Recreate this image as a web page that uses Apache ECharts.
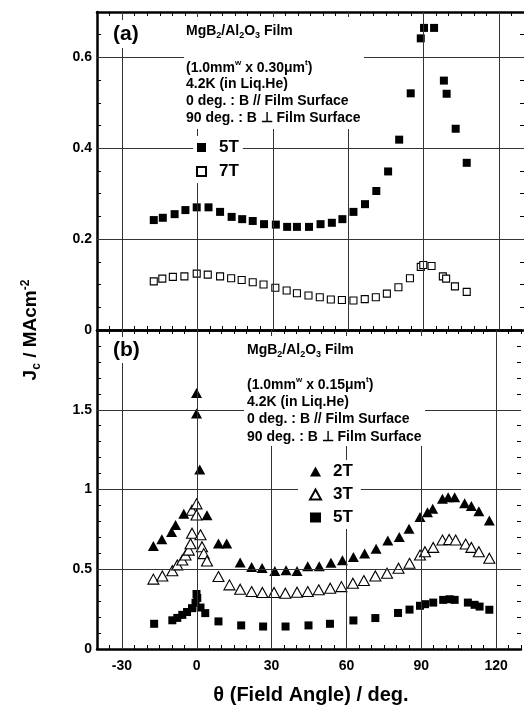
<!DOCTYPE html>
<html>
<head>
<meta charset="utf-8">
<script src="https://cdn.jsdelivr.net/npm/echarts/dist/echarts.min.js"></script>
<style>html,body{margin:0;padding:0;background:#fff}#c{width:524px;height:706px}</style>
</head>
<body>
<div id="c"></div>
<script>
// ---------- DATA ----------
const xTicksMajor = [-30, 0, 30, 60, 90, 120];
const yTicksA = [0.2, 0.4, 0.6];
const yTicksB = [0.5, 1, 1.5];

// Panel (a) 0.30um film
const angA5T = [-17.4,-13.8,-9.1,-4.8,-0.3,4.4,9.0,13.6,17.8,22.0,26.5,31.2,35.7,39.6,44.4,49.0,53.5,57.7,62.1,66.7,71.2,75.9,80.3,84.9,88.9,90.2,94.2,98.1,99.2,102.8,107.2];
const jcA5T  = [0.242,0.247,0.255,0.264,0.270,0.270,0.260,0.249,0.244,0.240,0.233,0.232,0.227,0.227,0.227,0.233,0.236,0.244,0.260,0.277,0.306,0.349,0.419,0.521,0.642,0.665,0.665,0.549,0.520,0.443,0.368];
const angA7T = [-17.4,-14.0,-9.8,-5.2,-0.3,4.1,9.0,13.4,17.6,22.0,26.3,31.0,35.5,39.6,44.2,48.7,53.1,57.5,62.1,66.6,71.0,75.4,80.0,84.6,88.9,89.9,93.2,97.7,99.0,102.5,107.2];
const jcA7T  = [0.107,0.113,0.117,0.118,0.124,0.122,0.118,0.114,0.110,0.105,0.100,0.093,0.087,0.081,0.076,0.072,0.067,0.066,0.065,0.068,0.072,0.080,0.094,0.114,0.139,0.143,0.141,0.118,0.113,0.096,0.084];

// Panel (b) 0.15um film
const angB2T = [-17.4,-14.0,-10.1,-8.5,-5.2,-0.1,-0.1,1.2,4.1,8.7,12.0,17.4,22.0,26.2,31.3,35.8,40.2,44.5,49.1,53.8,58.4,62.8,67.3,71.9,76.6,81.2,85.1,89.5,92.5,94.6,98.5,100.8,103.4,107.4,110.1,113.1,117.3];
const jcB2T  = [0.646,0.688,0.733,0.777,0.848,1.605,1.476,1.126,0.839,0.661,0.661,0.542,0.514,0.508,0.489,0.494,0.489,0.519,0.519,0.540,0.556,0.577,0.598,0.629,0.681,0.702,0.754,0.827,0.858,0.879,0.942,0.952,0.952,0.914,0.896,0.864,0.806];
const angB3T = [-17.4,-13.8,-9.8,-7.8,-5.8,-4.5,-3.2,-2.5,-1.9,-1.9,-0.1,-0.1,1.5,2.1,2.8,4.1,8.7,13.1,17.4,22.0,26.3,31.0,35.5,40.2,44.5,48.9,53.5,58.0,62.6,67.0,71.6,76.3,80.9,85.3,89.5,91.5,94.8,98.5,101.2,103.8,107.8,110.1,113.1,117.3];
const jcB3T  = [0.438,0.458,0.491,0.527,0.558,0.589,0.620,0.660,0.726,0.870,0.910,0.840,0.716,0.641,0.598,0.552,0.454,0.402,0.375,0.360,0.354,0.354,0.350,0.356,0.360,0.371,0.381,0.391,0.412,0.429,0.458,0.475,0.506,0.537,0.589,0.610,0.637,0.683,0.687,0.683,0.658,0.637,0.610,0.569];
const angB5T = [-17.1,-9.8,-7.8,-5.8,-3.9,-1.9,-0.5,-0.1,0.2,1.5,3.4,8.7,17.8,26.6,35.6,44.8,53.4,62.8,71.6,80.7,85.3,89.5,91.5,94.8,98.8,101.4,103.4,108.7,111.4,113.4,117.3];
const jcB5T  = [0.158,0.180,0.195,0.214,0.232,0.256,0.290,0.345,0.320,0.260,0.225,0.173,0.148,0.141,0.141,0.148,0.158,0.179,0.194,0.226,0.247,0.271,0.281,0.291,0.308,0.312,0.308,0.291,0.277,0.266,0.246];

const seriesLabels = {a5T:'5T', a7T:'7T', b2T:'2T', b3T:'3T', b5T:'5T'};

// ---------- CHART ----------
const FONT = '"Liberation Sans", Arial, Helvetica, sans-serif';
const zip = (xs, ys) => xs.map((x, i) => [x, ys[i]]);
const near = (v, step) => Math.abs(v / step - Math.round(v / step)) < 1e-6;

function xAx(grid, pos, labels) {
  return {
    type: 'value', gridIndex: grid, position: pos, min: -40, max: 130, interval: 5,
    axisLine: {show: true, onZero: false, lineStyle: {color: '#000', width: 2.5}},
    axisTick: {show: true, inside: true, length: 4, lineStyle: {color: '#000', width: 1}},
    axisLabel: {show: labels, margin: 10, color: '#000', fontFamily: FONT, fontWeight: 'bold', fontSize: 14,
      formatter: v => (near(v, 30) && v > -40 && v < 130) ? String(v) : ''},
    splitLine: {show: false}
  };
}
function yAx(grid, pos, max, step, major, labels) {
  return {
    type: 'value', gridIndex: grid, position: pos, min: 0, max: max, interval: step,
    axisLine: {show: pos === 'left', onZero: false, lineStyle: {color: '#000', width: 2.5}},
    axisTick: {show: true, inside: true, length: 4, lineStyle: {color: '#000', width: 1}},
    axisLabel: {show: labels, margin: 5, color: '#000', fontFamily: FONT, fontWeight: 'bold', fontSize: 14,
      formatter: v => { const r = Math.round(v * 1000) / 1000; return (near(r, major) && r < max - 1e-6) ? String(r) : ''; }},
    splitLine: {show: false}
  };
}
function gridLines(yVals) {
  return {
    silent: true, symbol: ['none', 'none'], animation: false, label: {show: false},
    lineStyle: {color: '#333', width: 1, type: 'solid', opacity: 1},
    emphasis: {disabled: true},
    data: xTicksMajor.map(v => ({xAxis: v})).concat(yVals.map(v => ({yAxis: v})))
  };
}
const filled = {color: '#000', opacity: 1};
const open = {color: '#fff', borderColor: '#000', borderWidth: 1.1, opacity: 1};

const sub = {fontSize: 9, fontWeight: 'bold', fontFamily: FONT, fill: '#000', lineHeight: 2, verticalAlign: 'bottom'};
const sup = {fontSize: 8, fontWeight: 'bold', fontFamily: FONT, fill: '#000', lineHeight: 6, verticalAlign: 'top'};
const main = {fontSize: 14, fontWeight: 'bold', fontFamily: FONT, fill: '#000', lineHeight: 18};
const richAnn = {m: main, s: sub, p: sup};

function line(x, y, text) {
  return {type: 'text', x: x, y: y, z: 61, silent: true,
    style: {text: text, rich: richAnn, verticalAlign: 'middle', align: 'left', fill: '#000'}};
}
function box(x, y, w, h) {
  return {type: 'rect', z: 60, silent: true, shape: {x: x, y: y, width: w, height: h}, style: {fill: '#fff'}};
}
function panelText(x, ys, thick) {
  return [
    line(x, ys[0], '{m|MgB}{s|2}{m|/Al}{s|2}{m|O}{s|3}{m| Film}'),
    line(x, ys[1], '{m|(1.0mm}{p|w}{m| x ' + thick + 'μm}{p|t}{m|)}'),
    line(x, ys[2], '{m|4.2K (in Liq.He)}'),
    line(x, ys[3], '{m|0 deg. : B // Film Surface}'),
    line(x, ys[4], '{m|90 deg. : B ⊥ Film Surface}')
  ];
}

const chart = echarts.init(document.getElementById('c'), null, {renderer: 'canvas'});
const option = {
  animation: false,
  backgroundColor: '#fff',
  grid: [
    {left: 97, top: 12, width: 428, height: 318},
    {left: 97, top: 330, width: 428, height: 319}
  ],
  xAxis: [xAx(0, 'bottom', false), xAx(0, 'top', false), xAx(1, 'bottom', true), xAx(1, 'top', false)],
  yAxis: [yAx(0, 'left', 0.7, 0.05, 0.2, true), yAx(0, 'right', 0.7, 0.05, 0.2, false),
          yAx(1, 'left', 2, 0.1, 0.5, true), yAx(1, 'right', 2, 0.1, 0.5, false)],
  legend: [
    {data: ['a5T', 'a7T'], left: 193, top: 136, orient: 'vertical', itemWidth: 9, itemHeight: 9, itemGap: 7,
     backgroundColor: '#fff', padding: [3, 4, 3, 3], selectedMode: false, z: 62,
     formatter: n => seriesLabels[n],
     textStyle: {fontFamily: FONT, fontWeight: 'bold', fontSize: 17, color: '#000', padding: [0, 0, 0, 8]}},
    {data: ['b2T', 'b3T', 'b5T'], left: 298, top: 460, orient: 'vertical', itemWidth: 11, itemHeight: 10, itemGap: 6,
     backgroundColor: '#fff', padding: [3, 8, 3, 11], selectedMode: false, z: 62,
     formatter: n => seriesLabels[n],
     textStyle: {fontFamily: FONT, fontWeight: 'bold', fontSize: 17, color: '#000', padding: [0, 0, 0, 7]}}
  ],
  series: [
    {name: 'a5T', type: 'scatter', xAxisIndex: 0, yAxisIndex: 0, symbol: 'rect', symbolSize: 8,
     itemStyle: filled, data: zip(angA5T, jcA5T), markLine: gridLines(yTicksA)},
    {name: 'a7T', type: 'scatter', xAxisIndex: 0, yAxisIndex: 0, symbol: 'rect', symbolSize: 7,
     itemStyle: open, data: zip(angA7T, jcA7T)},
    {name: 'b2T', type: 'scatter', xAxisIndex: 2, yAxisIndex: 2, symbol: 'triangle', symbolSize: [11, 10],
     itemStyle: filled, data: zip(angB2T, jcB2T), markLine: gridLines(yTicksB)},
    {name: 'b3T', type: 'scatter', xAxisIndex: 2, yAxisIndex: 2, symbol: 'triangle', symbolSize: [11, 10],
     itemStyle: open, data: zip(angB3T, jcB3T)},
    {name: 'b5T', type: 'scatter', xAxisIndex: 2, yAxisIndex: 2, symbol: 'rect', symbolSize: 8,
     itemStyle: filled, data: zip(angB5T, jcB5T)}
  ],
  graphic: [
    box(184, 17, 180, 112),
    box(110, 20, 32, 28),
    {type: 'text', x: 113, y: 34, z: 61, silent: true,
     style: {text: '(a)', font: 'bold 21px ' + FONT, fill: '#000', verticalAlign: 'middle'}},
    ...panelText(186, [31, 68, 84, 101, 118], '0.30'),
    box(244, 336, 181, 110),
    box(110, 337, 32, 26),
    {type: 'text', x: 113, y: 350, z: 61, silent: true,
     style: {text: '(b)', font: 'bold 21px ' + FONT, fill: '#000', verticalAlign: 'middle'}},
    ...panelText(247, [350, 385, 402, 419, 437], '0.15'),
    {type: 'text', x: 31, y: 330, z: 61, silent: true, rotation: Math.PI / 2,
     style: {text: '{m|J}{s|c}{m| / MAcm}{p|-2}', align: 'center', verticalAlign: 'middle',
       rich: {m: {fontSize: 19, fontWeight: 'bold', fontFamily: FONT, fill: '#000', lineHeight: 23},
              s: {fontSize: 12, fontWeight: 'bold', fontFamily: FONT, fill: '#000', lineHeight: 3, verticalAlign: 'bottom'},
              p: {fontSize: 12, fontWeight: 'bold', fontFamily: FONT, fill: '#000', lineHeight: 8, verticalAlign: 'top'}}}},
    {type: 'text', x: 311, y: 695, z: 61, silent: true,
     style: {text: 'θ (Field Angle) / deg.', font: 'bold 20px ' + FONT, fill: '#000', align: 'center', verticalAlign: 'middle'}}
  ]
};
chart.setOption(option);
</script>
</body>
</html>
